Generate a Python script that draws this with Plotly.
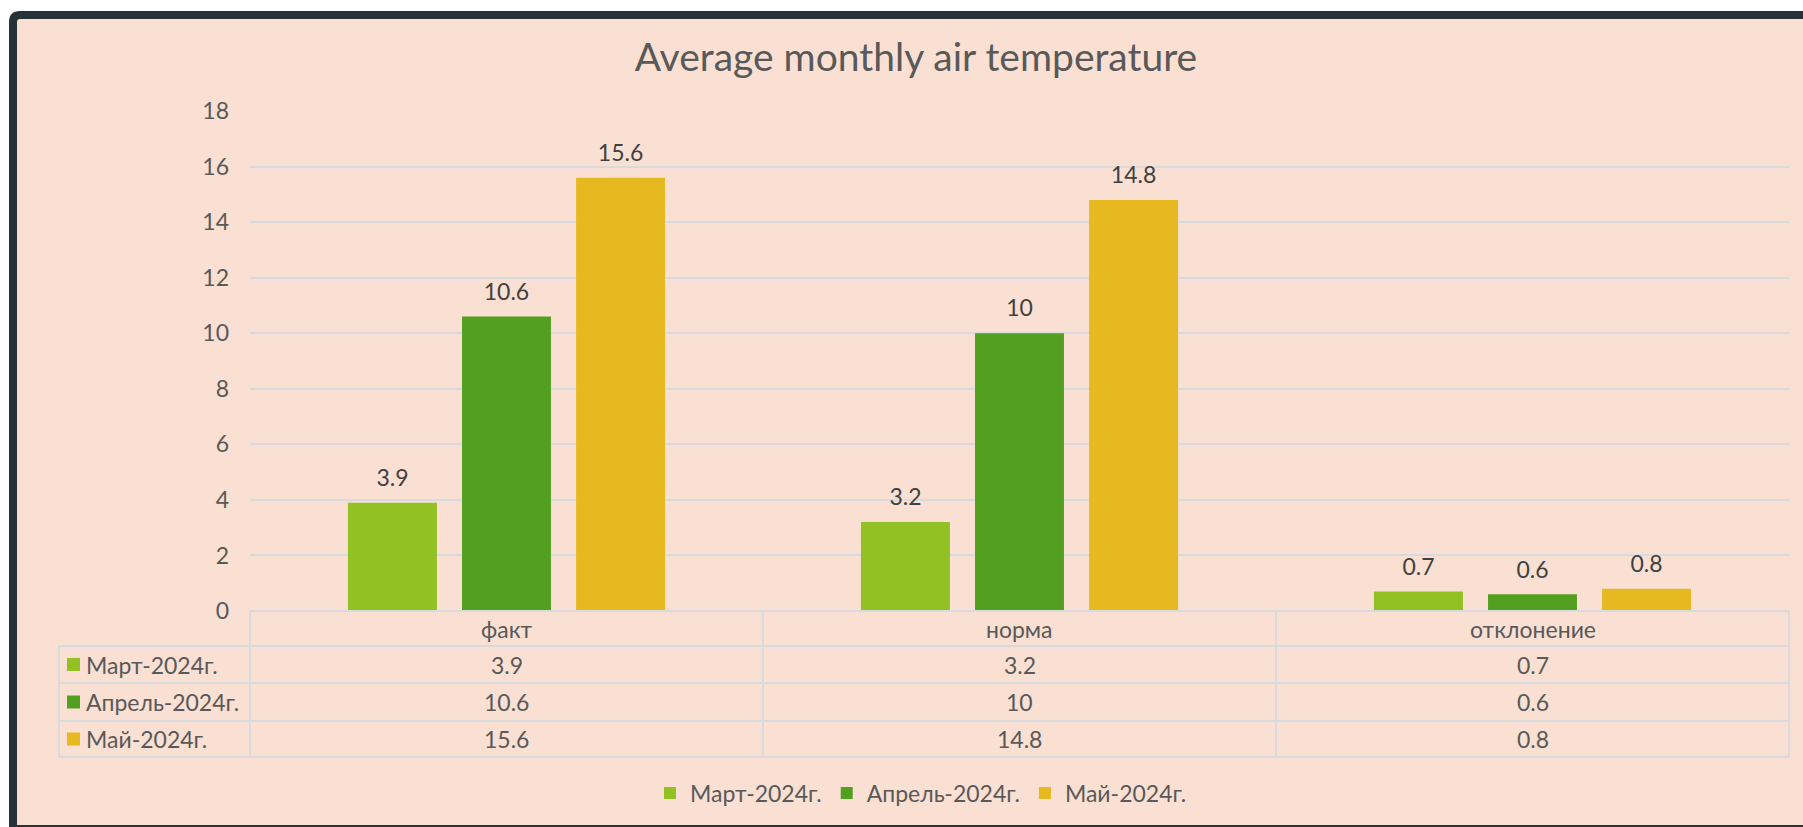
import plotly.graph_objects as go

categories = ["факт", "норма", "отклонение"]
series_names = ["Март-2024г.", "Апрель-2024г.", "Май-2024г."]
mart = [3.9, 3.2, 0.7]
aprel = [10.6, 10, 0.6]
mai = [15.6, 14.8, 0.8]
y_ticks = [0, 2, 4, 6, 8, 10, 12, 14, 16, 18]
title_text = "Average monthly air temperature"

colors = ["#92C123", "#53A021", "#E6B920"]
series_values = [mart, aprel, mai]

W, H = 1803, 827
FONT = "Lato"
TXT = "#595959"
VAL = "#404040"
GRID = "#D7DBDD"
BG = "#FAE0D3"
FRAME = "#263238"
FS = 23

def px(x):
    return x / W

def py(y):
    return 1 - y / H

fig = go.Figure()

# bars
for name, vals, col in zip(series_names, series_values, colors):
    fig.add_trace(go.Bar(
        x=categories, y=vals, name=name, offsetgroup=name,
        marker=dict(color=col, line=dict(width=0)),
        hoverinfo="skip",
    ))

# value labels above bars (grouped scatter aligned with bar slots)
for name, vals in zip(series_names, series_values):
    fig.add_trace(go.Scatter(
        x=categories, y=vals, offsetgroup=name, mode="markers+text",
        text=[f"{v:g}" for v in vals], textposition="top center",
        textfont=dict(family=FONT, size=FS, color=VAL),
        marker=dict(size=16, color="rgba(0,0,0,0)"),
        showlegend=False, hoverinfo="skip", cliponaxis=False,
    ))

# ---- background panel with dark frame (rounded top-left corner)
def P(x, y):
    return f"{px(x):.6f},{py(y):.6f}"

r = 7
frame_path = (f"M {P(13, 835)} L {P(13, 15 + r)} Q {P(13, 15)} {P(13 + r, 15)} "
              f"L {P(1840, 15)} L {P(1840, 835)} Z")
shapes = [
    dict(type="path", xref="paper", yref="paper", layer="below", path=frame_path,
         fillcolor=BG, line=dict(color=FRAME, width=8)),
    dict(type="line", xref="paper", yref="paper", layer="below",
         x0=px(13), x1=px(1840), y0=py(829), y1=py(829), line=dict(color=FRAME, width=8)),
]

# ---- data table under the plot (lines as shapes, text as annotations)
tbl_left, lab_right, tbl_right = 59, 250, 1789
row_edges = [611, 646, 683, 721, 757]
col_edges = [250, 763, 1276, 1789]

line_style = dict(color=GRID, width=2)
shapes.append(dict(type="line", xref="paper", yref="paper", x0=px(lab_right), x1=px(tbl_right),
                   y0=py(row_edges[0]), y1=py(row_edges[0]), line=line_style))
for ry in row_edges[1:]:
    shapes.append(dict(type="line", xref="paper", yref="paper", x0=px(tbl_left), x1=px(tbl_right),
                       y0=py(ry), y1=py(ry), line=line_style))
shapes.append(dict(type="line", xref="paper", yref="paper", x0=px(tbl_left), x1=px(tbl_left),
                   y0=py(row_edges[1]), y1=py(row_edges[-1]), line=line_style))
for cx in col_edges:
    shapes.append(dict(type="line", xref="paper", yref="paper", x0=px(cx), x1=px(cx),
                       y0=py(row_edges[0]), y1=py(row_edges[-1]), line=line_style))

annotations = []
for cat in categories:
    annotations.append(dict(x=cat, xref="x", y=py((row_edges[0] + row_edges[1]) / 2), yref="paper",
                            text=cat, showarrow=False, xanchor="center", yanchor="middle",
                            font=dict(family=FONT, size=FS, color=TXT)))
for i, (name, vals, col) in enumerate(zip(series_names, series_values, colors)):
    yc = (row_edges[i + 1] + row_edges[i + 2]) / 2
    shapes.append(dict(type="rect", xref="paper", yref="paper",
                       x0=px(67), x1=px(80), y0=py(yc + 6.5), y1=py(yc - 6.5),
                       fillcolor=col, line=dict(width=0)))
    annotations.append(dict(x=px(84), xref="paper", y=py(yc), yref="paper", text=name,
                            showarrow=False, xanchor="left", yanchor="middle",
                            font=dict(family=FONT, size=FS, color=TXT)))
    for cat, v in zip(categories, vals):
        annotations.append(dict(x=cat, xref="x", y=py(yc), yref="paper", text=f"{v:g}",
                                showarrow=False, xanchor="center", yanchor="middle",
                                font=dict(family=FONT, size=FS, color=TXT)))

fig.update_layout(
    width=W, height=H,
    margin=dict(l=0, r=0, t=0, b=0, pad=0, autoexpand=False),
    paper_bgcolor="white",
    plot_bgcolor="rgba(0,0,0,0)",
    barmode="group",
    bargap=0.333,
    bargroupgap=0.22,
    scattermode="group",
    scattergap=0.333,
    font=dict(family=FONT, color=TXT),
    title=dict(text=title_text, x=px(916), y=py(57), xanchor="center", yanchor="middle",
               automargin=False, font=dict(family=FONT, size=39, color=TXT)),
    xaxis=dict(domain=[px(250), px(1789)], showticklabels=False, showgrid=False,
               zeroline=False, showline=False, ticks="", automargin=False),
    yaxis=dict(domain=[py(611), py(111)], range=[0, 18], tickvals=y_ticks,
               showgrid=True, gridcolor=GRID, gridwidth=2, zeroline=False,
               showline=False, ticks="", ticklabelstandoff=20, automargin=False,
               tickfont=dict(family=FONT, size=FS, color=TXT)),
    legend=dict(orientation="h", x=px(921), xanchor="center", y=py(793), yanchor="middle",
                font=dict(family=FONT, size=FS, color=TXT), bgcolor="rgba(0,0,0,0)",
                itemclick=False, itemdoubleclick=False),
    shapes=shapes,
    annotations=annotations,
)

fig.write_html("out.html", config={"displayModeBar": False},
               post_script="document.body.style.margin='0';document.body.style.overflow='hidden';")
